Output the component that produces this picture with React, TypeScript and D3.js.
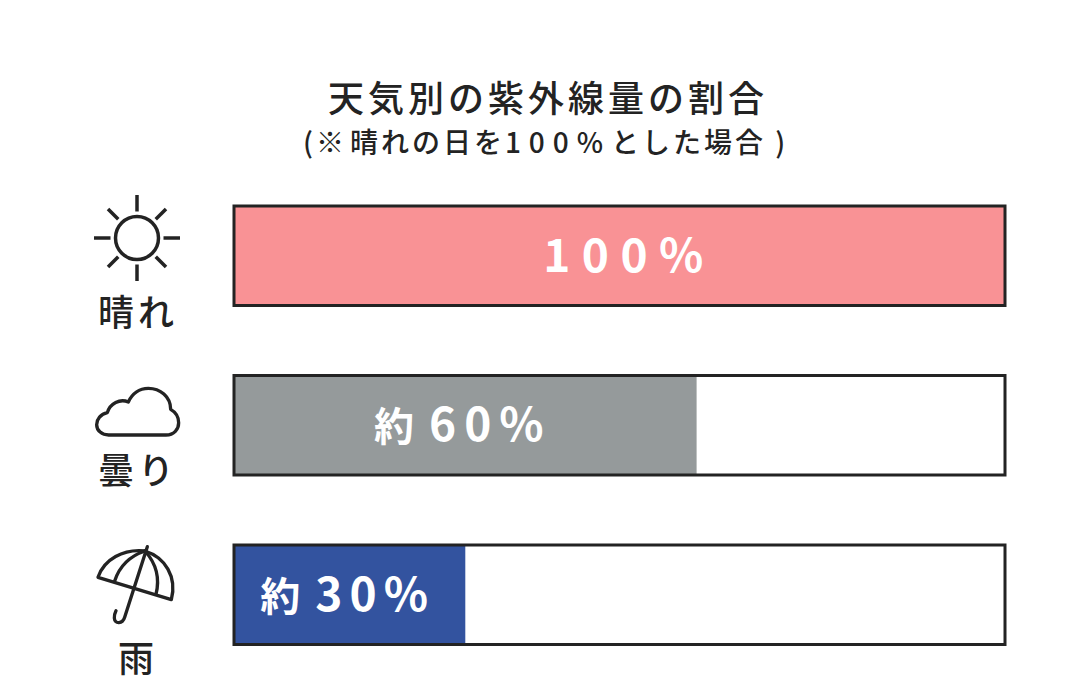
import React from 'react';
import * as d3 from 'd3';

const categories = ['晴れ', '曇り', '雨'];
const values = [100, 60, 30];
const valuePrefixes = ['', '約', '約'];
const valueTexts = ['100%', '60%', '30%'];
const titleText = '天気別の紫外線量の割合';
const subtitleParts = ['(', '※', '晴れの日を', '100%', 'とした場', '合', ')'];

const barColors = ['#f99295', '#959a9b', '#33539f'];
const ink = '#232323';
const font = '"Noto Sans CJK JP", "Noto Sans", sans-serif';

const width = 1086;
const height = 681;

const x = d3.scaleLinear().domain([0, 100]).range([234, 1005]);
const y = d3.scaleBand<string>().domain(categories).range([206, 644.5]).paddingInner(0.413);

// label baseline under each icon, the spacing is not regular in the picture
const labelY = [326, 484, 672];
const subtitleSpacing = [3, 6, 3, 8, 3, 12, 0];
const valueSpacing = [11.5, 8, 7];
const valueShift = [9.5, -2.5, -2];

const Sun = () => {
  const angles = d3.range(8).map(i => (i * Math.PI) / 4);
  return (
    <g transform="translate(137,238)" fill="none" stroke={ink} strokeWidth={3.5}>
      <circle r={21.5} />
      {angles.map((a, i) => (
        <line
          key={i}
          x1={26.5 * Math.cos(a)}
          y1={26.5 * Math.sin(a)}
          x2={(i % 2 ? 41 : 43) * Math.cos(a)}
          y2={(i % 2 ? 41 : 43) * Math.sin(a)}
        />
      ))}
    </g>
  );
};

// cloud and umbrella are traced in the 3x zoom coordinates
const Cloud = () => (
  <g transform="translate(80,370) scale(0.3333)" fill="none" stroke={ink} strokeWidth={10} strokeLinejoin="round">
    <path d="M86,195 L258,195 C282,195 296,178 296,158 C296,140 286,126 272,118 C272,80 240,55 205,55 C178,55 156,72 145,96 C120,85 90,100 82,128 C62,132 50,148 50,164 C50,182 66,195 86,195 Z" />
  </g>
);

const Umbrella = () => (
  <g transform="translate(80,530) scale(0.3333)" fill="none" stroke={ink} strokeWidth={10} strokeLinecap="round" strokeLinejoin="round">
    <path d="M54,142 C72,88 130,56 195,63 C255,82 292,140 274,209 Z" />
    <path d="M195,63 C150,78 118,110 104,153" />
    <path d="M195,63 C228,100 240,145 228,193" />
    <path d="M202,50 L134,262 C128,282 104,284 103,264 C102,255 105,248 108,242" />
  </g>
);

const icons = [<Sun key="sun" />, <Cloud key="cloud" />, <Umbrella key="umbrella" />];

export default function App() {
  return (
    <svg
      width={width}
      height={height}
      viewBox={`0 0 ${width} ${height}`}
      style={{ position: 'absolute', left: 0, top: 0, background: '#fff' }}
      fontFamily={font}
    >
      <text x={548} y={112} textAnchor="middle" fontSize={36} fontWeight={500} letterSpacing={4} fill={ink}>
        {titleText}
      </text>
      <text x={544} y={153} textAnchor="middle" fontSize={28} fontWeight={500} fill={ink}>
        {subtitleParts.map((p, i) => (
          <tspan key={i} letterSpacing={subtitleSpacing[i]}>{p}</tspan>
        ))}
      </text>

      {categories.map((c, i) => {
        const top = y(c) ?? 0;
        const barW = x(values[i]) - x(0);
        return (
          <g key={c}>
            <rect x={x(0)} y={top} width={x(100) - x(0)} height={y.bandwidth()} fill="#fff" />
            <rect x={x(0)} y={top} width={barW} height={y.bandwidth()} fill={barColors[i]} />
            <rect x={x(0)} y={top} width={x(100) - x(0)} height={y.bandwidth()} fill="none" stroke={ink} strokeWidth={3} />
            <text
              x={x(0) + barW / 2 + valueShift[i]}
              y={top + y.bandwidth() / 2 + 16}
              textAnchor="middle"
              fontSize={46}
              fontWeight={700}
              fill="#fff"
            >
              {valuePrefixes[i] && <tspan fontSize={40} letterSpacing={15}>{valuePrefixes[i]}</tspan>}
              <tspan letterSpacing={valueSpacing[i]}>{valueTexts[i]}</tspan>
            </text>
            {icons[i]}
            <text x={138} y={labelY[i]} textAnchor="middle" fontSize={36} fontWeight={500} letterSpacing={4} fill={ink}>
              {c}
            </text>
          </g>
        );
      })}
    </svg>
  );
}
